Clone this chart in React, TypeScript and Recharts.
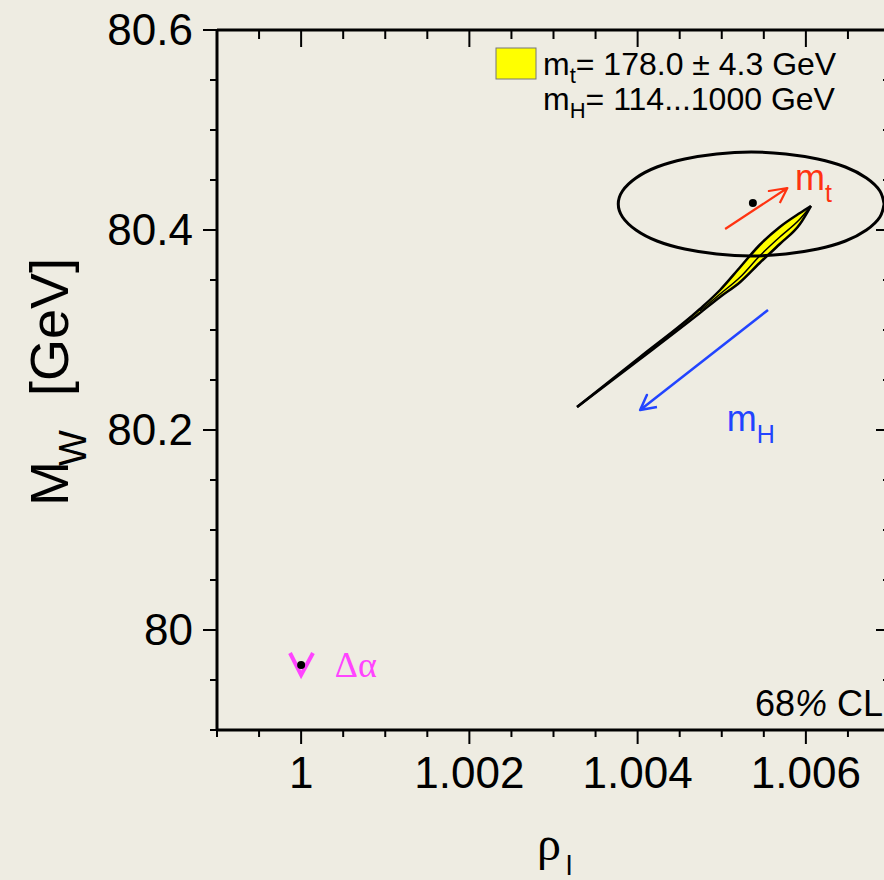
import { ComposedChart, XAxis, YAxis, Line, Area, Scatter, Customized } from 'recharts'

// axis ranges and ticks
const X_DOMAIN = [0.999, 1.007]
const Y_DOMAIN = [79.9, 80.6]
const xTicks = [0.999, 0.9995, 1.0, 1.0005, 1.001, 1.0015, 1.002, 1.0025, 1.003, 1.0035, 1.004, 1.0045, 1.005, 1.0055, 1.006, 1.0065, 1.007]
const xMajorTicks = [1.0, 1.002, 1.004, 1.006]
const xTickLabels = ['1', '1.002', '1.004', '1.006']
const yTicks = [79.9, 79.95, 80.0, 80.05, 80.1, 80.15, 80.2, 80.25, 80.3, 80.35, 80.4, 80.45, 80.5, 80.55, 80.6]
const yMajorTicks = [80.0, 80.2, 80.4, 80.6]
const yTickLabels = ['80', '80.2', '80.4', '80.6']

// 68% CL contour of the measurement
const ellipsePoints = [
  { x: 1.00693, y: 80.426 }, { x: 1.00688, y: 80.439 }, { x: 1.00672, y: 80.452 },
  { x: 1.00647, y: 80.463 }, { x: 1.00614, y: 80.471 }, { x: 1.00576, y: 80.476 },
  { x: 1.00535, y: 80.478 }, { x: 1.00494, y: 80.476 }, { x: 1.00456, y: 80.471 },
  { x: 1.00423, y: 80.463 }, { x: 1.00398, y: 80.452 }, { x: 1.00382, y: 80.439 },
  { x: 1.00377, y: 80.426 }, { x: 1.00382, y: 80.413 }, { x: 1.00398, y: 80.4 },
  { x: 1.00423, y: 80.389 }, { x: 1.00456, y: 80.381 }, { x: 1.00494, y: 80.376 },
  { x: 1.00535, y: 80.374 }, { x: 1.00576, y: 80.376 }, { x: 1.00614, y: 80.381 },
  { x: 1.00647, y: 80.389 }, { x: 1.00672, y: 80.4 }, { x: 1.00688, y: 80.413 },
  { x: 1.00693, y: 80.426 },
]
const measuredPoint = [{ x: 1.00537, y: 80.427 }]

// SM prediction band (mt, mH ranges)
const bandPoints = [
  { x: 1.00328, y: [80.223, 80.223] },
  { x: 1.00403, y: [80.271, 80.273] },
  { x: 1.00474, y: [80.317, 80.321] },
  { x: 1.00498, y: [80.333, 80.34] },
  { x: 1.00522, y: [80.348, 80.363] },
  { x: 1.00545, y: [80.367, 80.385] },
  { x: 1.00569, y: [80.386, 80.403] },
  { x: 1.00593, y: [80.406, 80.417] },
  { x: 1.00606, y: [80.424, 80.424] },
]
const bandInner = [
  { x: 1.00474, y: 80.319 }, { x: 1.00498, y: 80.336 }, { x: 1.00522, y: 80.353 },
  { x: 1.00545, y: 80.374 }, { x: 1.00569, y: 80.393 }, { x: 1.00593, y: 80.411 },
  { x: 1.00606, y: 80.424 },
]

// arrows: shaft start, tip, head arm, tip, head arm
const mtArrow = [
  { x: 1.00504, y: 80.401 }, { x: 1.00578, y: 80.442 }, { x: 1.00556, y: 80.439 },
  { x: 1.00578, y: 80.442 }, { x: 1.00569, y: 80.427 },
]
const mhArrow = [
  { x: 1.00555, y: 80.32 }, { x: 1.00403, y: 80.22 }, { x: 1.00411, y: 80.235 },
  { x: 1.00403, y: 80.22 }, { x: 1.00423, y: 80.223 },
]
const alphaMark = [{ x: 0.999868, y: 79.977 }, { x: 1.0, y: 79.955 }, { x: 1.000141, y: 79.977 }]
const alphaPoint = [{ x: 1.0, y: 79.965 }]

const annotations = [
  { x: 1.00587, y: 80.44, main: 'm', sub: 't', color: '#FF3311', serif: false },
  { x: 1.00506, y: 80.199, main: 'm', sub: 'H', color: '#2244FF', serif: false },
  { x: 1.0004, y: 79.953, main: 'Δα', sub: '', color: '#FF44FF', serif: true },
]

const SANS = 'Liberation Sans, Arial, Helvetica, sans-serif'
const SERIF = 'Liberation Serif, Times New Roman, serif'
const BG = '#EEECE2'

const near = (a: number, b: number) => Math.abs(a - b) < 1e-9

function BottomTick({ x, y, payload }: any) {
  const i = xMajorTicks.findIndex((t) => near(t, payload.value))
  return (
    <g>
      <line x1={x} x2={x} y1={y} y2={y + (i >= 0 ? 14 : 7)} stroke="#000" strokeWidth={2} />
      {i >= 0 && (
        <text x={x} y={y + 58} textAnchor="middle" fontSize={44} fontFamily={SANS} fill="#000">
          {xTickLabels[i]}
        </text>
      )}
    </g>
  )
}

function TopTick({ x, y, payload }: any) {
  const major = xMajorTicks.some((t) => near(t, payload.value))
  return <line x1={x} x2={x} y1={y} y2={y + (major ? 17 : 9)} stroke="#000" strokeWidth={2} />
}

function LeftTick({ x, y, payload }: any) {
  const i = yMajorTicks.findIndex((t) => near(t, payload.value))
  return (
    <g>
      <line x1={x} x2={x - (i >= 0 ? 14 : 7)} y1={y} y2={y} stroke="#000" strokeWidth={2} />
      {i >= 0 && (
        <text x={x - 24} y={y + 15} textAnchor="end" fontSize={44} fontFamily={SANS} fill="#000">
          {yTickLabels[i]}
        </text>
      )}
    </g>
  )
}

function RightTick({ x, y, payload }: any) {
  const major = yMajorTicks.some((t) => near(t, payload.value))
  return <line x1={x} x2={x - (major ? 14 : 7)} y1={y} y2={y} stroke="#000" strokeWidth={2} />
}

function AnnotationShape(props: any) {
  const d = props.payload ?? props
  if (d.serif) {
    return (
      <text x={props.cx} y={props.cy} fontSize={36} fontFamily={SERIF} fill={d.color}>
        {d.main}
      </text>
    )
  }
  return (
    <text x={props.cx} y={props.cy} fontSize={36} fontFamily={SANS} fill={d.color}>
      {d.main}
      <tspan fontSize={25} dy={12}>{d.sub}</tspan>
    </text>
  )
}

function Frame() {
  return (
    <g fontFamily={SANS} fill="#000">
      <rect x={496} y={48} width={40} height={31} fill="#FFFF00" stroke="#777" strokeWidth={1} />
      <text x={543} y={75} fontSize={32}>
        m<tspan fontSize={22} dy={8}>t</tspan>
        <tspan dy={-8}>= 178.0 ± 4.3 GeV</tspan>
      </text>
      <text x={543} y={110} fontSize={32}>
        m<tspan fontSize={22} dy={8}>H</tspan>
        <tspan dy={-8}>= 114...1000 GeV</tspan>
      </text>
      <text x={883} y={716} fontSize={36} textAnchor="end">
        68<tspan fontStyle="italic">%</tspan> CL
      </text>
      <text transform="translate(68,506) rotate(-90)" fontSize={54}>M</text>
      <text transform="translate(86,466) rotate(-90)" fontSize={38}>W</text>
      <text transform="translate(68,396) rotate(-90)" fontSize={54}>[GeV]</text>
      <text x={537} y={860} fontSize={48} fontFamily={SERIF}>ρ</text>
      <text x={566} y={875} fontSize={28}>l</text>
    </g>
  )
}

export default function App() {
  return (
    <div style={{ position: 'absolute', left: 0, top: 0, width: 884, height: 880, overflow: 'hidden', background: BG }}>
      <ComposedChart width={960} height={880} margin={{ top: 29, right: 69, bottom: 149, left: 216 }}>
        <XAxis xAxisId="b" dataKey="x" type="number" domain={X_DOMAIN} allowDataOverflow ticks={xTicks} interval={0}
          height={1} tickSize={0} tickMargin={0} tickLine={false} axisLine={{ stroke: '#000', strokeWidth: 3 }}
          tick={(p: any) => <BottomTick {...p} />} />
        <XAxis xAxisId="t" orientation="top" dataKey="x" type="number" domain={X_DOMAIN} allowDataOverflow ticks={xTicks}
          interval={0} height={1} tickSize={0} tickMargin={0} tickLine={false} axisLine={{ stroke: '#000', strokeWidth: 3 }}
          tick={(p: any) => <TopTick {...p} />} />
        <YAxis yAxisId="l" dataKey="y" type="number" domain={Y_DOMAIN} allowDataOverflow ticks={yTicks} interval={0}
          width={1} tickSize={0} tickMargin={0} tickLine={false} axisLine={{ stroke: '#000', strokeWidth: 3 }}
          tick={(p: any) => <LeftTick {...p} />} />
        <YAxis yAxisId="r" orientation="right" dataKey="y" type="number" domain={Y_DOMAIN} allowDataOverflow ticks={yTicks}
          interval={0} width={1} tickSize={0} tickMargin={0} tickLine={false} axisLine={{ stroke: '#000', strokeWidth: 3 }}
          tick={(p: any) => <RightTick {...p} />} />

        <Area data={bandPoints} xAxisId="b" yAxisId="l" dataKey="y" type="monotone" stroke="#000" strokeWidth={2.5}
          fill="#FFFF00" fillOpacity={1} isAnimationActive={false} />
        <Line data={bandInner} xAxisId="b" yAxisId="l" dataKey="y" type="monotone" stroke="#000" strokeWidth={1.5}
          dot={false} isAnimationActive={false} />
        <Line data={ellipsePoints} xAxisId="b" yAxisId="l" dataKey="y" type="natural" stroke="#000" strokeWidth={3}
          dot={false} isAnimationActive={false} />
        <Line data={mtArrow} xAxisId="b" yAxisId="l" dataKey="y" type="linear" stroke="#FF3311" strokeWidth={2.2}
          strokeLinejoin="round" dot={false} isAnimationActive={false} />
        <Line data={mhArrow} xAxisId="b" yAxisId="l" dataKey="y" type="linear" stroke="#2244FF" strokeWidth={2.5}
          strokeLinejoin="round" dot={false} isAnimationActive={false} />
        <Line data={alphaMark} xAxisId="b" yAxisId="l" dataKey="y" type="linear" stroke="#FF44FF" strokeWidth={4}
          dot={false} isAnimationActive={false} />
        <Scatter data={measuredPoint} xAxisId="b" yAxisId="l" dataKey="y" isAnimationActive={false}
          shape={(p: any) => <circle cx={p.cx} cy={p.cy} r={4} fill="#000" />} />
        <Scatter data={alphaPoint} xAxisId="b" yAxisId="l" dataKey="y" isAnimationActive={false}
          shape={(p: any) => <circle cx={p.cx} cy={p.cy} r={4} fill="#000" />} />
        <Scatter data={annotations} xAxisId="b" yAxisId="l" dataKey="y" isAnimationActive={false}
          shape={(p: any) => <AnnotationShape {...p} />} />
        <Customized component={Frame} />
      </ComposedChart>
    </div>
  )
}
